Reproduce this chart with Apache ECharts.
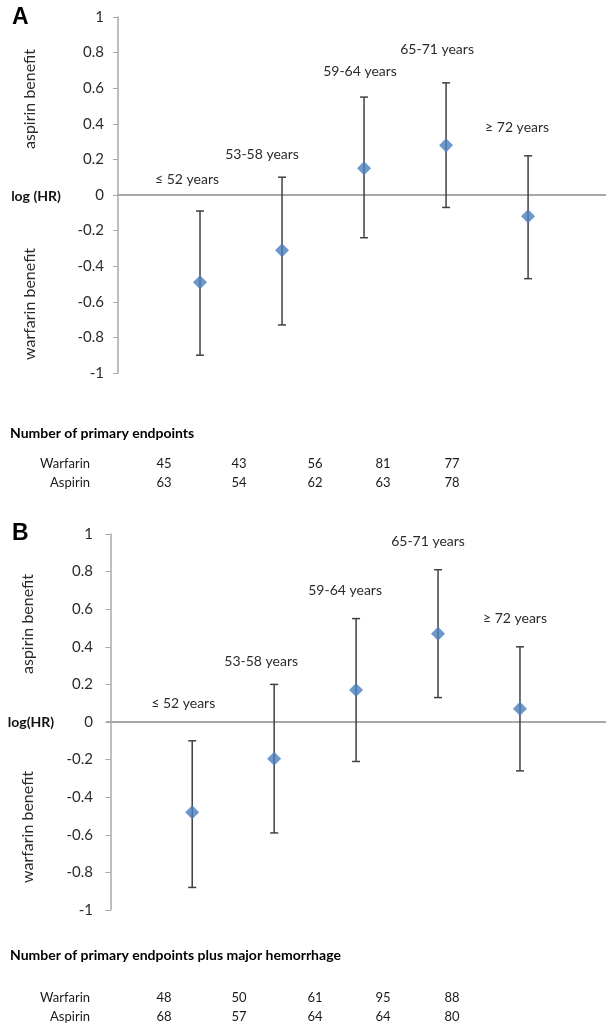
<!DOCTYPE html>
<html>
<head>
<meta charset="utf-8">
<script src="https://cdn.jsdelivr.net/npm/echarts@6/dist/echarts.min.js"></script>
<style>
  html, body { margin: 0; padding: 0; background: #fff; }
  #main { width: 606px; height: 1024px; }
</style>
</head>
<body>
<div id="main"></div>
<script>
// age groups (x categories)
var ageGroups = ['≤ 52 years', '53-58 years', '59-64 years', '65-71 years', '≥ 72 years'];

// panel A: log(HR) with error bars
var hrA = [-0.49, -0.31, 0.15, 0.28, -0.12];
var lowA = [-0.90, -0.73, -0.24, -0.07, -0.47];
var highA = [-0.09, 0.10, 0.55, 0.63, 0.22];

// panel B
var hrB = [-0.48, -0.195, 0.17, 0.47, 0.07];
var lowB = [-0.88, -0.59, -0.21, 0.13, -0.26];
var highB = [-0.10, 0.20, 0.55, 0.81, 0.40];

// tables under the plots
var warfarinA = [45, 43, 56, 81, 77];
var aspirinA = [63, 54, 62, 63, 78];
var warfarinB = [48, 50, 61, 95, 88];
var aspirinB = [68, 57, 64, 64, 80];

// layout only: where each age label sits relative to the top cap (px)
var labelOffA = [[-13, -32], [-20, -23], [-4, -26], [-9, -33], [-11, -28]];
var labelOffB = [[-9, -37], [-13, -23], [-11, -28], [-10, -28], [-5, -28]];
var tableCols = [164, 239, 315, 383, 452];

var FONT = 'Lato, "Open Sans", sans-serif';
var TXT = '#2b2b2b';

var chart = echarts.init(document.getElementById('main'), null, { renderer: 'canvas' });

function pts(vals) {
  return vals.map(function (v, i) { return [i + 1, v]; });
}
function bars(lo, hi) {
  return lo.map(function (v, i) { return [i + 1, v, hi[i]]; });
}

function errRender(offsets) {
  return function (params, api) {
    var x = api.value(0);
    var lo = api.coord([x, api.value(1)]);
    var hi = api.coord([x, api.value(2)]);
    var off = offsets[params.dataIndex];
    var st = { stroke: '#404040', lineWidth: 1.5 };
    return {
      type: 'group',
      children: [
        { type: 'line', shape: { x1: lo[0], y1: lo[1], x2: hi[0], y2: hi[1] }, style: st },
        { type: 'line', shape: { x1: lo[0] - 4, y1: lo[1], x2: lo[0] + 4, y2: lo[1] }, style: st },
        { type: 'line', shape: { x1: hi[0] - 4, y1: hi[1], x2: hi[0] + 4, y2: hi[1] }, style: st },
        {
          type: 'text', x: hi[0] + off[0], y: hi[1] + off[1],
          style: {
            text: ageGroups[params.dataIndex], align: 'center', verticalAlign: 'middle',
            fill: TXT, font: '14px ' + FONT
          }
        }
      ]
    };
  };
}

function yAxisCfg(gi) {
  return {
    gridIndex: gi, type: 'value', min: -1, max: 1, interval: 0.2,
    axisLine: { show: true, lineStyle: { color: '#a8a8a8', width: 1.5 } },
    axisTick: { show: true, length: 5, lineStyle: { color: '#a8a8a8' } },
    axisLabel: { margin: 14, color: TXT, fontSize: 15, fontFamily: FONT,
      formatter: function (v) { return String(Math.round(v * 10) / 10); } },
    splitLine: { show: false }
  };
}
function xAxisCfg(gi, mn, mx) {
  return {
    gridIndex: gi, type: 'value', min: mn, max: mx,
    axisLine: { show: true, onZero: true, lineStyle: { color: '#a8a8a8', width: 2 } },
    axisTick: { show: false }, axisLabel: { show: false }, splitLine: { show: false }
  };
}

// table texts
var graphics = [];
function txt(x, y, s, opt) {
  graphics.push({
    type: 'text', x: x, y: y,
    style: Object.assign({ text: s, fill: '#1a1a1a', font: '13px ' + FONT, verticalAlign: 'middle' }, opt || {})
  });
}
function table(title, yTitle, yRow1, w, a) {
  txt(10, yTitle, title, { font: 'bold 14px ' + FONT, fill: '#000' });
  txt(90, yRow1, 'Warfarin', { align: 'right' });
  txt(90, yRow1 + 19, 'Aspirin', { align: 'right' });
  w.forEach(function (v, i) { txt(tableCols[i], yRow1, String(v), { align: 'center' }); });
  a.forEach(function (v, i) { txt(tableCols[i], yRow1 + 19, String(v), { align: 'center' }); });
}
table('Number of primary endpoints', 433, 464, warfarinA, aspirinA);
table('Number of primary endpoints plus major hemorrhage', 955, 998, warfarinB, aspirinB);

// axis side texts
txt(12, 18, 'A', { font: 'bold 23px "Liberation Sans", Arial', fill: '#000' });
txt(12, 534, 'B', { font: 'bold 23px "Liberation Sans", Arial', fill: '#000' });
txt(36, 196, 'log (HR)', { font: 'bold 14px ' + FONT, fill: '#111', align: 'center' });
txt(31, 722, 'log(HR)', { font: 'bold 14px ' + FONT, fill: '#111', align: 'center' });
function vtxt(x, y, s) {
  graphics.push({
    type: 'text', x: x, y: y, rotation: Math.PI / 2,
    style: { text: s, fill: TXT, font: '16px ' + FONT, align: 'center', verticalAlign: 'middle' }
  });
}
vtxt(30, 99, 'aspirin benefit');
vtxt(30, 304, 'warfarin benefit');
vtxt(28, 624, 'aspirin benefit');
vtxt(28, 827, 'warfarin benefit');

var option = {
  backgroundColor: '#fff',
  animation: false,
  grid: [
    { left: 118, top: 17, height: 356, right: 0 },
    { left: 107, top: 534, height: 376, right: 0 }
  ],
  xAxis: [xAxisCfg(0, 0, 5.95), xAxisCfg(1, -0.04, 6.05)],
  yAxis: [yAxisCfg(0), yAxisCfg(1)],
  graphic: graphics,
  series: [
    { type: 'custom', xAxisIndex: 0, yAxisIndex: 0, renderItem: errRender(labelOffA),
      data: bars(lowA, highA), z: 2 },
    { type: 'scatter', xAxisIndex: 0, yAxisIndex: 0, symbol: 'diamond', symbolSize: 14,
      itemStyle: { color: '#4a7ebb' }, data: pts(hrA), z: 3 },
    { type: 'custom', xAxisIndex: 1, yAxisIndex: 1, renderItem: errRender(labelOffB),
      data: bars(lowB, highB), z: 2 },
    { type: 'scatter', xAxisIndex: 1, yAxisIndex: 1, symbol: 'diamond', symbolSize: 14,
      itemStyle: { color: '#4a7ebb' }, data: pts(hrB), z: 3 }
  ]
};
chart.setOption(option);
</script>
</body>
</html>
